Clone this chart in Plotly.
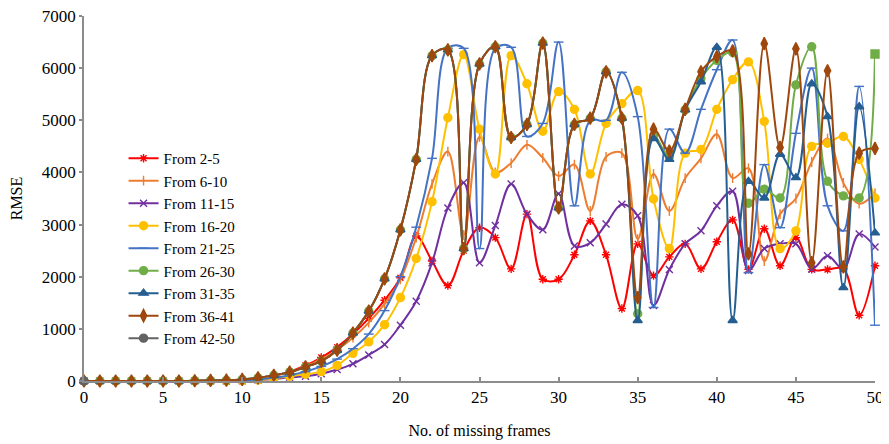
import plotly.graph_objects as go

frames = list(range(51))

series_names = ["From 2-5", "From 6-10", "From 11-15", "From 16-20", "From 21-25",
                "From 26-30", "From 31-35", "From 36-41", "From 42-50"]

rmse_2_5 = [0, 0, 0, 0, 0, 0, 0, 0, 5, 10,
            20, 50, 100, 180, 300, 450, 650, 900, 1200, 1550,
            1980, 2780, 2300, 1830, 2500, 2940, 2750, 2150, 3200, 1950,
            1950, 2420, 3070, 2420, 1390, 2630, 2020, 2380, 2630, 2150,
            2670, 3090, 2140, 2920, 2210, 2750, 2140, 2140, 2150, 1260,
            2210]

rmse_6_10 = [0, 0, 0, 0, 0, 0, 0, 0, 5, 10,
             20, 50, 100, 170, 280, 420, 600, 830, 1120, 1480,
             1950, 2750, 3780, 4400, 2800, 4680, 4000, 4180, 4530, 4280,
             3930, 4150, 3260, 4300, 4370, 2720, 3970, 3260, 3890, 4270,
             4730, 3890, 4080, 2300, 3200, 3500, 4200, 4650, 3800, 3400,
             3600]

rmse_11_15 = [0, 0, 0, 0, 0, 0, 0, 0, 0, 0,
              5, 20, 40, 70, 90, 140, 220, 330, 500, 700,
              1070, 1530, 2270, 3320, 3800, 2270, 2980, 3780, 3200, 2900,
              3590, 2590, 2650, 3010, 3390, 3170, 1450, 2140, 2630, 2880,
              3360, 3640, 2120, 2540, 2630, 2630, 2150, 2400, 2150, 2820,
              2570]

rmse_16_20 = [0, 0, 0, 0, 0, 0, 0, 0, 0, 0,
              5, 20, 50, 90, 130, 180, 300, 530, 750, 1080,
              1600, 2350, 3440, 5050, 6260, 4830, 3970, 6240, 5700, 4790,
              5550, 5210, 3970, 4940, 5320, 5570, 3490, 2540, 4370, 4440,
              5210, 5780, 6120, 4980, 2540, 2880, 4500, 4560, 4690, 4250,
              3510]

rmse_21_25 = [0, 0, 0, 0, 0, 0, 0, 0, 0, 5,
              10, 30, 60, 110, 180, 280, 420, 620, 900, 1350,
              2000, 2950, 4270, 6380, 6380, 2540, 6380, 6400, 4690, 4940,
              6500, 3360, 5000, 5000, 5920, 5070, 1410, 4830, 4370, 5210,
              5970, 6540, 2080, 4150, 2940, 4750, 6000, 3360, 2880, 5650,
              1070]

rmse_26_30 = [0, 0, 0, 0, 0, 0, 0, 5, 10, 15,
              30, 60, 110, 170, 270, 380, 590, 920, 1340, 1960,
              2900, 4250, 6240, 6350, 2540, 6080, 6410, 4670, 4920, 6480,
              3320, 4920, 5040, 5930, 5040, 1290, 4700, 4300, 5200, 5800,
              6150, 6300, 3410, 3680, 3510, 5680, 6410, 3830, 3550, 3510,
              6270]

rmse_31_35 = [0, 0, 0, 0, 0, 0, 0, 5, 10, 15,
              30, 60, 110, 170, 270, 380, 590, 920, 1340, 1960,
              2900, 4250, 6240, 6350, 2540, 6080, 6410, 4670, 4920, 6480,
              3320, 4920, 5040, 5930, 5040, 1160, 4650, 4250, 5200, 5740,
              6400, 1160, 3830, 3510, 4350, 3900, 5700, 5070, 1790, 5260,
              2840]

rmse_36_41 = [0, 0, 0, 0, 0, 0, 0, 5, 10, 15,
              30, 60, 110, 170, 270, 380, 590, 920, 1340, 1960,
              2900, 4250, 6240, 6350, 2540, 6080, 6410, 4670, 4920, 6480,
              3320, 4920, 5040, 5930, 5040, 1600, 4830, 4410, 5210, 5930,
              6220, 6330, 2440, 6470, 4480, 6370, 2270, 5950, 2190, 4370,
              4460]

rmse_42_50 = [0]

all_series = [rmse_2_5, rmse_6_10, rmse_11_15, rmse_16_20, rmse_21_25,
              rmse_26_30, rmse_31_35, rmse_36_41, rmse_42_50]

colors = ["#FF0000", "#ED7D31", "#7030A0", "#FFC000", "#4472C4",
          "#70AD47", "#255E91", "#9E480E", "#636363"]
symbols = ["asterisk-open", "line-ns-open", "x-thin-open", "circle", "line-ew-open",
           "circle", "triangle-up", "diamond-tall", "circle"]
sizes = [7, 7, 7, 8, 7, 8, 8, 9, 8]

font_family = "Liberation Serif, Times New Roman, serif"

fig = go.Figure()
for name, vals, col, sym, sz in zip(series_names, all_series, colors, symbols, sizes):
    xs = frames[:len(vals)]
    sym_list = sym
    if name == "From 26-30":
        sym_list = [sym] * (len(vals) - 1) + ["square"]
    fig.add_trace(go.Scatter(
        x=xs, y=vals, name=name, mode="lines+markers",
        line=dict(color=col, width=2, shape="spline", smoothing=1),
        marker=dict(symbol=sym_list, size=sz, color=col,
                    line=dict(color=col, width=1.4)),
        cliponaxis=False,
    ))

axis_common = dict(
    showgrid=False, zeroline=False, showline=True, linecolor="#8C8C8C", linewidth=1.5,
    tickfont=dict(family=font_family, size=17, color="#000000"),
    tickcolor="#8C8C8C", tickwidth=1.5, automargin=False,
    ticklabeloverflow="allow",
)

fig.update_xaxes(range=[0, 50], tickmode="linear", tick0=0, dtick=5,
                 ticks="inside", ticklen=4,
                 title=dict(text="No. of missing frames",
                            font=dict(family=font_family, size=16, color="#000000"),
                            standoff=19),
                 **axis_common)
fig.update_yaxes(range=[0, 7000], tickmode="linear", tick0=0, dtick=1000,
                 tickformat="d", ticks="outside", ticklen=3,
                 title=dict(text="RMSE",
                            font=dict(family=font_family, size=16, color="#000000"),
                            standoff=21),
                 **axis_common)

# page body adds an 8px offset; figure sized so the plot area lands where the reference has it
fig.update_layout(
    width=881, height=436,
    margin=dict(l=76, r=14, t=8, b=63),
    paper_bgcolor="white", plot_bgcolor="white",
    showlegend=True,
    legend=dict(x=0.05, y=0.655, xanchor="left", yanchor="top",
                bgcolor="rgba(255,255,255,0)",
                font=dict(family=font_family, size=15, color="#000000"),
                tracegroupgap=0, itemwidth=30),
)

fig.write_html("out.html")
